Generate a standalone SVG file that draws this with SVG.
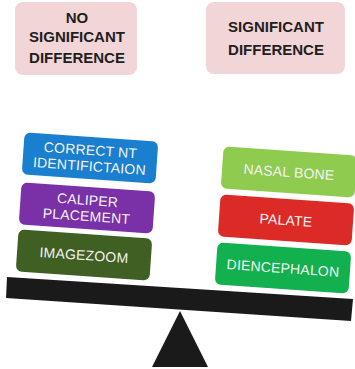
<svg xmlns="http://www.w3.org/2000/svg" width="355" height="369" viewBox="0 0 355 369">
<style>
.hdr{fill:#f2d5d7}
.ht{font-family:"Liberation Sans",Arial,sans-serif;font-weight:bold;font-size:15px;fill:#1e1e1e;text-anchor:middle}
.bt{font-family:"Liberation Sans",Arial,sans-serif;font-size:14px;letter-spacing:0.2px;fill:#f4f4f4;text-anchor:middle}
.dark{fill:#1b1a1a}
</style>
<rect width="355" height="369" fill="#ffffff"/>
<g id="no-sig">
<rect class="hdr" x="15" y="2" width="122" height="73" rx="8"/>
<text class="ht" x="77" y="23">NO</text>
<text class="ht" x="77" y="42">SIGNIFICANT</text>
<text class="ht" x="77" y="63">DIFFERENCE</text>
</g>
<g id="sig">
<rect class="hdr" x="206" y="2" width="139" height="72" rx="8"/>
<text class="ht" x="276" y="32">SIGNIFICANT</text>
<text class="ht" x="276" y="55">DIFFERENCE</text>
</g>
<g id="correct-nt" transform="rotate(4 90 158)">
<rect x="23" y="137" width="134" height="42" rx="6" fill="#1b7fcf"/>
<text class="bt" x="90" y="155">CORRECT NT</text>
<text class="bt" x="90" y="171">IDENTIFICTAION</text>
</g>
<g id="caliper" transform="rotate(4 87 208)">
<rect x="20" y="187" width="134" height="42" rx="6" fill="#7a30a6"/>
<text class="bt" x="87" y="205">CALIPER</text>
<text class="bt" x="87" y="221">PLACEMENT</text>
</g>
<g id="imagezoom" transform="rotate(4 84 255)">
<rect x="17" y="234" width="134" height="42" rx="6" fill="#405f22"/>
<text class="bt" x="84" y="260">IMAGEZOOM</text>
</g>
<g id="nasal-bone" transform="rotate(4 289 172)">
<rect x="222" y="151" width="134" height="42" rx="6" fill="#8fcb4f"/>
<text class="bt" x="289" y="177">NASAL BONE</text>
</g>
<g id="palate" transform="rotate(4 286 220)">
<rect x="219" y="199" width="134" height="42" rx="6" fill="#dc2b27"/>
<text class="bt" x="286" y="225">PALATE</text>
</g>
<g id="diencephalon" transform="rotate(4 283 268)">
<rect x="216" y="247" width="134" height="42" rx="6" fill="#13b04f"/>
<text class="bt" x="283" y="273">DIENCEPHALON</text>
</g>
<g id="scale">
<polygon class="dark" points="7,277 353,299 351,321 6,298"/>
<polygon class="dark" points="180,311 152,367 208,367"/>
</g>
</svg>
